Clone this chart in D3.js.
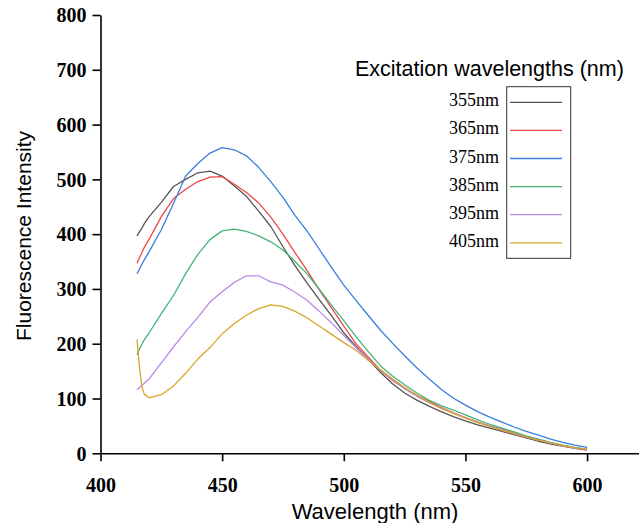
<!DOCTYPE html>
<html>
<head>
<meta charset="utf-8">
<script src="https://cdn.jsdelivr.net/npm/d3@7"></script>
<style>
  html, body { margin: 0; padding: 0; background: #fff; }
  svg { display: block; }
</style>
</head>
<body>
<svg id="chart" width="639" height="523"></svg>
<script>
// ---- data ----
const wavelengths = [415,416,417,418,420,425,430,435,440,445,450,455,460,465,470,475,480,485,490,495,500,505,510,515,520,525,530,535,540,545,550,555,560,565,570,575,580,585,590,595,600];
const ex355 = [397,404,411,419,432,458,487,500,512,515,506,488,469,442,414,377,342,310,280,251,220,195,172,148,127,110,97,86,76,67,59,52,46,40,34,28,22,17,13,9,6];
const ex365 = [347,357,366,376,391,432,465,482,496,504,505,491,476,457,431,400,366,333,298,265,232,200,176,152,133,119,106,95,84,74,65,57,50,44,37,31,25,19,14,10,7];
const ex375 = [328,336,345,353,368,408,456,506,529,548,558,554,543,522,496,467,434,405,372,339,307,279,252,225,201,178,156,136,117,101,88,76,66,57,48,40,33,26,20,15,11];
const ex385 = [180,190,199,207,220,255,288,328,363,390,406,409,405,397,386,371,350,327,299,270,242,213,186,160,141,125,110,97,87,79,70,61,53,46,39,32,26,20,15,11,7];
const ex395 = [116,120,124,128,136,165,194,222,248,276,295,312,324,324,313,307,294,279,259,238,215,193,172,152,134,118,104,93,83,74,65,57,50,43,36,30,24,19,14,10,7];
const ex405 = [208,158,122,108,101,107,123,146,172,193,218,237,252,264,271,268,259,247,232,217,202,188,170,153,136,120,106,93,82,73,64,56,49,42,36,30,24,19,14,10,7];
const seriesLabels = ["355nm","365nm","375nm","385nm","395nm","405nm"];
const seriesValues = [ex355, ex365, ex375, ex385, ex395, ex405];
const xTicks = [400,450,500,550,600];
const yTicks = [0,100,200,300,400,500,600,700,800];

// ---- styles ----
const colors = ["#555555","#ee4848","#3a7ede","#45b475","#b98ae6","#d9a428"];

const svg = d3.select("#chart");
const x = d3.scaleLinear().domain([400, 625]).range([100.5, 647.9]);
const y = d3.scaleLinear().domain([0, 800]).range([453.3, 15]);

// x axis
const xMinor = d3.range(425, 626, 50);
const gx = svg.append("g").attr("transform", `translate(0,${y(0)})`);
gx.call(d3.axisBottom(x).tickValues(xMinor).tickSize(4).tickFormat("").tickSizeOuter(0));
gx.call(d3.axisBottom(x).tickValues(xTicks).tickSize(8).tickSizeOuter(0));
gx.selectAll("path").attr("stroke", "#000").attr("stroke-width", 1.6);
gx.selectAll("line").attr("stroke", "#000").attr("stroke-width", 1.6);
gx.selectAll("text")
  .attr("y", 39).attr("dy", 0)
  .attr("fill", "#000")
  .style("font-family", "'Liberation Serif', 'Times New Roman', serif")
  .style("font-weight", "bold")
  .style("font-size", "20px");

// y axis
const yMinor = d3.range(50, 800, 100);
const gy = svg.append("g").attr("transform", `translate(${x(400)},0)`);
gy.call(d3.axisLeft(y).tickValues(yMinor).tickSize(4).tickFormat("").tickSizeOuter(0));
gy.call(d3.axisLeft(y).tickValues(yTicks).tickSize(8).tickSizeOuter(0));
gy.selectAll("path").attr("stroke", "#000").attr("stroke-width", 1.6);
gy.selectAll("line").attr("stroke", "#000").attr("stroke-width", 1.6);
gy.selectAll("text")
  .attr("x", -14).attr("dy", "0.34em")
  .attr("fill", "#000")
  .style("font-family", "'Liberation Serif', 'Times New Roman', serif")
  .style("font-weight", "bold")
  .style("font-size", "20px");

// lines
const line = d3.line().x((d, i) => x(wavelengths[i])).y(d => y(d));
svg.append("g").selectAll("path").data(seriesValues).join("path")
  .attr("d", d => line(d))
  .attr("fill", "none")
  .attr("stroke", (d, i) => colors[i])
  .attr("stroke-width", 1.3)
  .attr("stroke-linejoin", "round");

// axis titles
svg.append("text")
  .attr("x", 375).attr("y", 519)
  .attr("text-anchor", "middle")
  .style("font-family", "'Liberation Sans', Arial, sans-serif")
  .style("font-size", "22px")
  .text("Wavelength (nm)");
svg.append("text")
  .attr("transform", "translate(31,236) rotate(-90)")
  .attr("text-anchor", "middle")
  .style("font-family", "'Liberation Sans', Arial, sans-serif")
  .style("font-size", "21px")
  .text("Fluorescence Intensity");

// legend
svg.append("text")
  .attr("x", 355).attr("y", 76)
  .style("font-family", "'Liberation Sans', Arial, sans-serif")
  .style("font-size", "21.5px")
  .text("Excitation wavelengths (nm)");
svg.append("rect")
  .attr("x", 506.7).attr("y", 86.7).attr("width", 64).attr("height", 171.6)
  .attr("fill", "none").attr("stroke", "#333").attr("stroke-width", 1);
const lg = svg.append("g").selectAll("g").data(seriesLabels).join("g")
  .attr("transform", (d, i) => `translate(0,${102.3 + i * 28.1})`);
lg.append("line")
  .attr("x1", 510).attr("x2", 562).attr("y1", 0).attr("y2", 0)
  .attr("stroke", (d, i) => colors[i]).attr("stroke-width", 1.3);
lg.append("text")
  .attr("x", 499).attr("y", 4)
  .attr("text-anchor", "end")
  .style("font-family", "'Liberation Serif', 'Times New Roman', serif")
  .style("font-size", "18px")
  .text(d => d);
</script>
</body>
</html>
